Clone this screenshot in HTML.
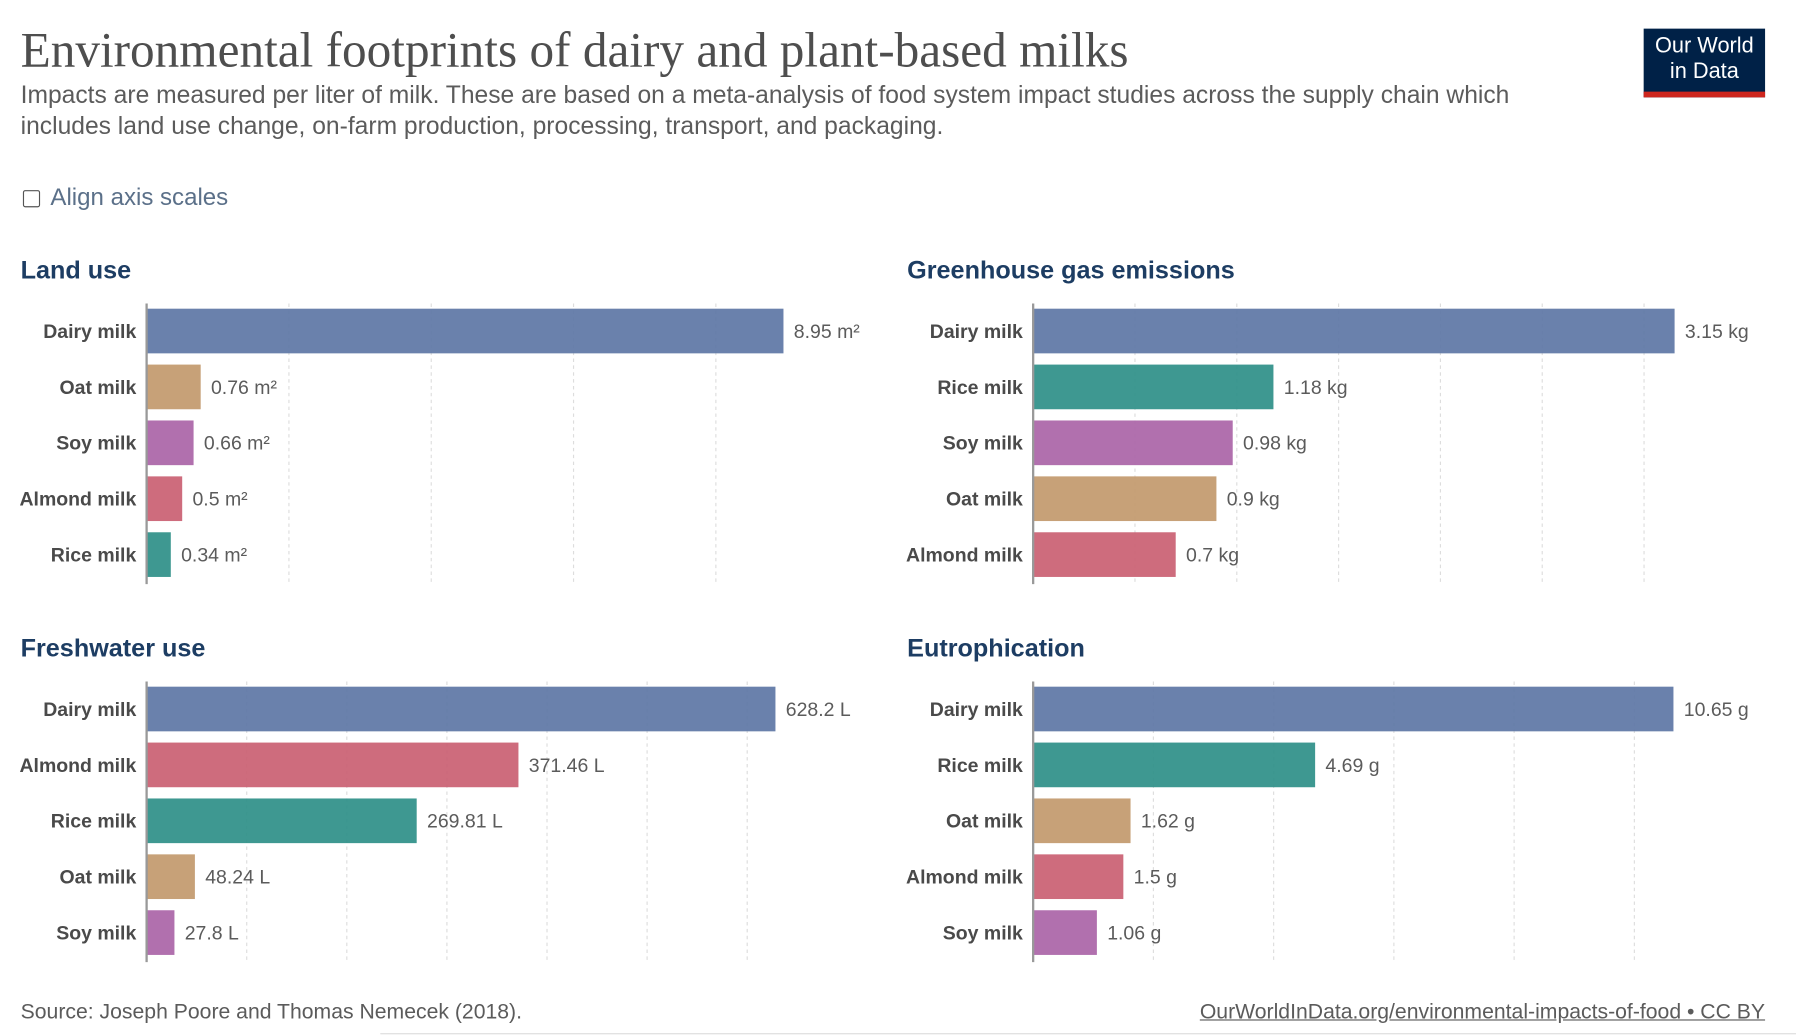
<!DOCTYPE html>
<html><head><meta charset="utf-8">
<style>
html,body{margin:0;padding:0;background:#fff;width:1796px;height:1036px;overflow:hidden}
#wrap{position:absolute;left:0;top:0;width:1568px;height:904px;transform:scale(1.14541);transform-origin:0 0;font-family:"Liberation Sans",sans-serif}
.t{position:absolute;white-space:nowrap}
</style></head><body>
<div id="wrap">
<div class="t" style="left:18px;top:20px;font-family:'Liberation Serif',serif;font-size:43px;color:#4e4e4e">Environmental footprints of dairy and plant-based milks</div>
<div class="t" style="left:18px;top:70px;font-size:21.5px;line-height:27px;color:#5b5b5b">Impacts are measured per liter of milk. These are based on a meta-analysis of food system impact studies across the supply chain which<br>includes land use change, on-farm production, processing, transport, and packaging.</div>
<div style="position:absolute;left:1435px;top:25px;width:106px;height:60px;background:#002147;color:#fff;font-size:19px;line-height:22px;text-align:center;box-sizing:border-box;padding-top:5px;border-bottom:5px solid #ce261e">Our World<br>in Data</div>
<div style="position:absolute;left:20px;top:166px;width:13px;height:13px;border:1.5px solid #555;border-radius:2px"></div>
<div class="t" style="left:44px;top:161px;font-size:21px;color:#5b7089">Align axis scales</div>
<svg id="svg" width="1568" height="904" style="position:absolute;left:0;top:0"></svg>
<div class="t" style="left:18px;top:872px;font-size:18.5px;color:#5b5b5b">Source: Joseph Poore and Thomas Nemecek (2018).</div>
<div class="t" style="right:27px;top:872px;font-size:18.5px;color:#5b5b5b;text-decoration:underline">OurWorldInData.org/environmental-impacts-of-food • CC BY</div>
<div style="position:absolute;left:332px;top:902px;width:1236px;height:1px;background:#ddd"></div>
</div>
<script>
const landCats=["Dairy milk","Oat milk","Soy milk","Almond milk","Rice milk"];
const landVals=[8.95,0.76,0.66,0.5,0.34];
const landTicks=[2,4,6,8];
const ghgCats=["Dairy milk","Rice milk","Soy milk","Oat milk","Almond milk"];
const ghgVals=[3.15,1.18,0.98,0.9,0.7];
const ghgTicks=[0.5,1,1.5,2,2.5,3];
const waterCats=["Dairy milk","Almond milk","Rice milk","Oat milk","Soy milk"];
const waterVals=[628.2,371.46,269.81,48.24,27.8];
const waterTicks=[100,200,300,400,500,600];
const eutCats=["Dairy milk","Rice milk","Oat milk","Almond milk","Soy milk"];
const eutVals=[10.65,4.69,1.62,1.5,1.06];
const eutTicks=[2,4,6,8,10];
const colors={"Dairy milk":"#5f77a6","Oat milk":"#c39a6e","Soy milk":"#ab65a8","Almond milk":"#ca6173","Rice milk":"#2f9089"};
const NS="http://www.w3.org/2000/svg";
const svg=document.getElementById('svg');
function mk(tag,attrs){const e=document.createElementNS(NS,tag);for(const k in attrs)e.setAttribute(k,attrs[k]);svg.appendChild(e);return e;}
function chart(title,cats,vals,ticks,unit,x0,maxW,top,slug){
  const t=mk('text',{x:x0-110,y:top,'font-size':22,'font-weight':'bold',fill:'#1d3d63','font-family':'Liberation Sans,sans-serif'});
  t.textContent=title;
  
  
  const maxV=Math.max(...vals);
  const sx=v=>x0+v/maxV*maxW;
  const y0=top+22, step=48.8, bh=39;
  ticks.forEach(tv=>{
    const g=mk('line',{x1:sx(tv),x2:sx(tv),y1:y0,y2:y0+245,stroke:'#ddd','stroke-dasharray':'3,3'});
    
    
  });
  cats.forEach((c,i)=>{
    const cy=y0+24+i*step;
    const r=mk('rect',{x:x0,y:cy-bh/2,width:sx(vals[i])-x0,height:bh,fill:colors[c],'fill-opacity':0.93});
    
    
    const l=mk('text',{x:x0-9,y:cy+6,'text-anchor':'end','font-size':17,'font-weight':'bold',fill:'#4a4a4a','font-family':'Liberation Sans,sans-serif'});
    l.textContent=c;
    
    
    const v=mk('text',{x:sx(vals[i])+9,y:cy+6,'font-size':17,fill:'#5b5b5b','font-family':'Liberation Sans,sans-serif'});
    v.textContent=vals[i]+unit;
    
    
  });
  const a=mk('line',{x1:x0,x2:x0,y1:y0,y2:y0+245,stroke:'#999','stroke-width':2});
  
  
}
chart("Land use",landCats,landVals,landTicks," m²",128,556,243,"land-use");
chart("Greenhouse gas emissions",ghgCats,ghgVals,ghgTicks," kg",902,560,243,"ghg");
chart("Freshwater use",waterCats,waterVals,waterTicks," L",128,549,573,"freshwater");
chart("Eutrophication",eutCats,eutVals,eutTicks," g",902,559,573,"eutrophication");
</script>
</body></html>
